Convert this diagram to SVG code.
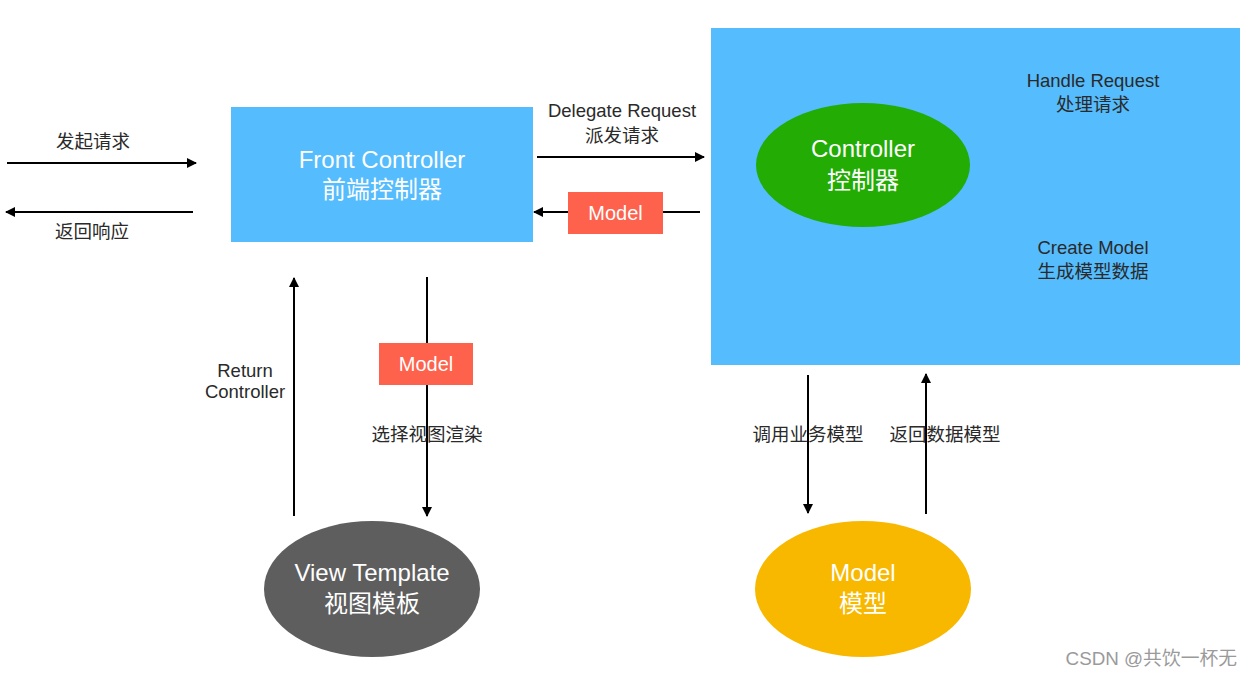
<svg xmlns="http://www.w3.org/2000/svg" width="1253" height="677" viewBox="0 0 1253 677">
<defs>
<marker id="ah" viewBox="0 0 10 10" refX="9" refY="5" markerWidth="10" markerHeight="10" markerUnits="userSpaceOnUse" orient="auto">
<path d="M0,0 L10,5 L0,10 z" fill="#000"/>
</marker>
</defs>
<style>
text{font-family:"Liberation Sans","Noto Sans CJK SC",sans-serif;text-anchor:middle}
.lbl{font-size:18.5px;fill:#2a2a2a}
.node{font-size:24px;fill:#fff}
.tag{font-size:20px;fill:#fff}
.blue{fill:#55bcfd}
.red{fill:#fe614c}
.conn line{stroke:#000;stroke-width:2;marker-end:url(#ah)}
</style>
<rect width="1253" height="677" fill="#fff"/>
<g id="controller-area">
<rect class="blue" x="711" y="28" width="529" height="337"/>
<text class="lbl" x="1093" y="87">Handle Request</text>
<text class="lbl" x="1093" y="111">处理请求</text>
<text class="lbl" x="1093" y="254">Create Model</text>
<text class="lbl" x="1093" y="278">生成模型数据</text>
</g>
<g id="controller">
<ellipse cx="863" cy="165" rx="107" ry="62" fill="#22ac04"/>
<text class="node" x="863" y="157">Controller</text>
<text class="node" x="863" y="189">控制器</text>
</g>
<g id="front-controller">
<rect class="blue" x="231" y="107" width="302" height="135"/>
<text class="node" x="382" y="168">Front Controller</text>
<text class="node" x="382" y="198">前端控制器</text>
</g>
<g id="view-template">
<ellipse cx="372" cy="589" rx="108" ry="68" fill="#5e5e5e"/>
<text class="node" x="372" y="581">View Template</text>
<text class="node" x="372" y="612">视图模板</text>
</g>
<g id="model">
<ellipse cx="863" cy="589" rx="108" ry="68" fill="#f8b800"/>
<text class="node" x="863" y="581">Model</text>
<text class="node" x="863" y="612">模型</text>
</g>
<g class="conn" id="connectors">
<line x1="7" y1="163" x2="196" y2="163"/>
<line x1="193" y1="212" x2="6" y2="212"/>
<line x1="537" y1="157" x2="704" y2="157"/>
<line x1="700" y1="212" x2="534" y2="212"/>
<line x1="294" y1="516" x2="294" y2="278"/>
<line x1="427" y1="277" x2="427" y2="516"/>
<line x1="808" y1="375" x2="808" y2="513"/>
<line x1="926" y1="514" x2="926" y2="374"/>
</g>
<g id="labels">
<text class="lbl" x="93" y="148">发起请求</text>
<text class="lbl" x="92" y="238">返回响应</text>
<text class="lbl" x="622" y="117">Delegate Request</text>
<text class="lbl" x="622" y="142">派发请求</text>
<text class="lbl" x="245" y="377">Return</text>
<text class="lbl" x="245" y="398">Controller</text>
<text class="lbl" x="427" y="441">选择视图渲染</text>
<text class="lbl" x="808" y="441">调用业务模型</text>
<text class="lbl" x="945" y="441">返回数据模型</text>
</g>
<g id="model-tag-1">
<rect class="red" x="568" y="192" width="95" height="42"/>
<text class="tag" x="615.500" y="220">Model</text>
</g>
<g id="model-tag-2">
<rect class="red" x="379" y="343" width="94" height="42"/>
<text class="tag" x="426" y="371">Model</text>
</g>
<text x="1237" y="665" style="font-size:18.8px;fill:#9a9a9a;text-anchor:end">CSDN @共饮一杯无</text>
</svg>
